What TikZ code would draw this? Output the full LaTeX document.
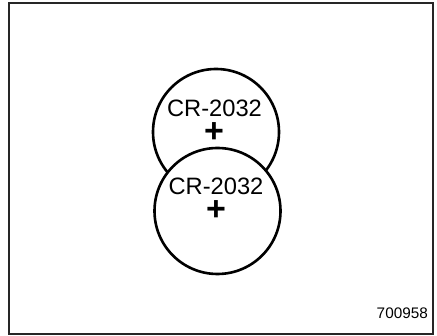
\documentclass[tikz,border=0pt]{standalone}
\usepackage{fontspec}
\setmainfont{Liberation Sans}
\begin{document}
\begin{tikzpicture}[x=1pt,y=-1pt,
  cell/.style={circle,draw=black,fill=white,line width=2.6pt,minimum size=126pt,inner sep=0pt},
  label/.style={inner sep=0pt,anchor=base,font=\fontsize{23.7}{26}\selectfont},
  plussign/.style={inner sep=0pt,font=\bfseries\fontsize{34}{36}\selectfont},
  code/.style={inner sep=0pt,anchor=base east,font=\fontsize{15.3}{17}\selectfont}]
\useasboundingbox (0,0) rectangle (437,336);
\draw[line width=1.4pt,draw=black!85] (9,3) rectangle (433,334);
\node[cell] (top) at (216,132) {};
\node[label] (toptext) at (214.5,117) {CR-2032};
\node[plussign] (topplus) at (214,133) {+};
\node[cell] (bot) at (217.5,211) {};
\node[label] (bottext) at (216,195) {CR-2032};
\node[plussign] (botplus) at (216,211) {+};
\node[code] (num) at (428,319) {700958};
\end{tikzpicture}
\end{document}
